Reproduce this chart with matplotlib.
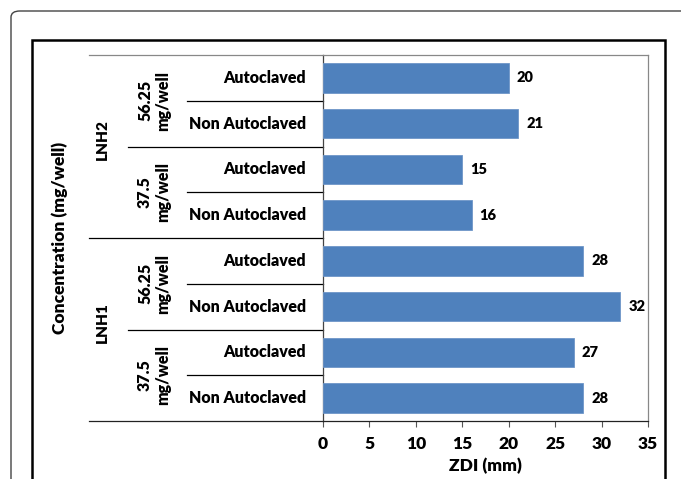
import matplotlib
matplotlib.use("Agg")
import matplotlib.pyplot as plt
import matplotlib.transforms as mtransforms
from matplotlib.lines import Line2D
from matplotlib.patches import FancyBboxPatch, Rectangle

plt.rcParams['font.family'] = ['Lato', 'DejaVu Sans']

# Bars listed bottom to top
treatments = ["Non Autoclaved", "Autoclaved", "Non Autoclaved", "Autoclaved",
              "Non Autoclaved", "Autoclaved", "Non Autoclaved", "Autoclaved"]
doses = ["37.5\nmg/well", "56.25\nmg/well", "37.5\nmg/well", "56.25\nmg/well"]
samples = ["LNH1", "LNH2"]
zdi = [28, 27, 32, 28, 16, 15, 21, 20]
xticks = [0, 5, 10, 15, 20, 25, 30, 35]

W, H = 681, 479
fig = plt.figure(figsize=(W / 100, H / 100), dpi=100)

def fx(x):
    return x / W

def fy(y):
    return 1 - y / H

# Outer rounded frame and inner black frame
fig.patches.append(FancyBboxPatch((fx(11), fy(520)), fx(720), fy(11) - fy(520),
                                  boxstyle="round,pad=0,rounding_size=0.013",
                                  transform=fig.transFigure, fill=False,
                                  edgecolor="#444444", linewidth=1.0))
fig.patches.append(Rectangle((fx(32), fy(520)), fx(665) - fx(32), fy(40) - fy(520),
                             transform=fig.transFigure, fill=False,
                             edgecolor="black", linewidth=1.8))

left, right, top, bottom = 323, 648, 55, 421
ax = fig.add_axes([fx(left), fy(bottom), fx(right) - fx(left), fy(top) - fy(bottom)])

ypos = list(range(len(zdi)))
ax.barh(ypos, zdi, height=0.645, color="#4F81BD", edgecolor="#6f96c8",
        linewidth=0.6, zorder=3)
for y, v in zip(ypos, zdi):
    ax.annotate(str(v), (v, y), xytext=(5.8, 0), textcoords="offset points",
                ha="left", va="center", fontsize=10.5, fontweight="heavy")

ax.set_xlim(0, 35)
ax.set_ylim(-0.5, 7.5)
ax.set_xticks(xticks)
ax.set_xticklabels([str(t) for t in xticks], fontsize=12.5, fontweight="heavy")
ax.set_yticks([])
ax.tick_params(axis="x", direction="out", length=4, width=0.8, color="#555555", pad=7)

for side in ["left", "right", "top", "bottom"]:
    ax.spines[side].set_linewidth(0.9)
ax.spines["left"].set_color("#444444")
ax.spines["right"].set_color("#888888")
ax.spines["top"].set_color("#888888")
ax.spines["bottom"].set_color("#222222")

ax.set_xlabel("ZDI (mm)", fontsize=12.5, fontweight="heavy", va="center")
ax.xaxis.set_label_coords(0.5, (bottom - 466) / (bottom - top))
ax.set_ylabel("Concentration (mg/well)", fontsize=12.5, fontweight="heavy", va="center")
ax.yaxis.set_label_coords((60 - left) / (right - left), 0.5)

# Multi-level category axis drawn in pixel x / data y
blend = mtransforms.blended_transform_factory(fig.transFigure, ax.transData)

def hline(x0, y, color="black", lw=0.9):
    ax.add_line(Line2D([fx(x0), fx(left)], [y, y], transform=blend, color=color,
                       linewidth=lw, clip_on=False))

for y in [0.5, 2.5, 4.5, 6.5]:
    hline(187, y)
for y in [1.5, 5.5]:
    hline(128, y)
hline(89, 3.5)
hline(89, -0.5, color="#222222")
hline(89, 7.5, color="#888888")

for y, t in zip(ypos, treatments):
    ax.text(fx(306), y, t, transform=blend, ha="right", va="center",
            fontsize=11.5, fontweight="heavy")
for i, d in enumerate(doses):
    ax.text(fx(154), 2 * i + 0.5, d, transform=blend, ha="center", va="center",
            rotation=90, fontsize=11.5, fontweight="heavy", linespacing=1.15,
            multialignment="center")
for i, s in enumerate(samples):
    ax.text(fx(102), 4 * i + 1.65, s, transform=blend, ha="center", va="center",
            rotation=90, fontsize=11, fontweight="heavy")

fig.savefig("out.png", dpi=100)
